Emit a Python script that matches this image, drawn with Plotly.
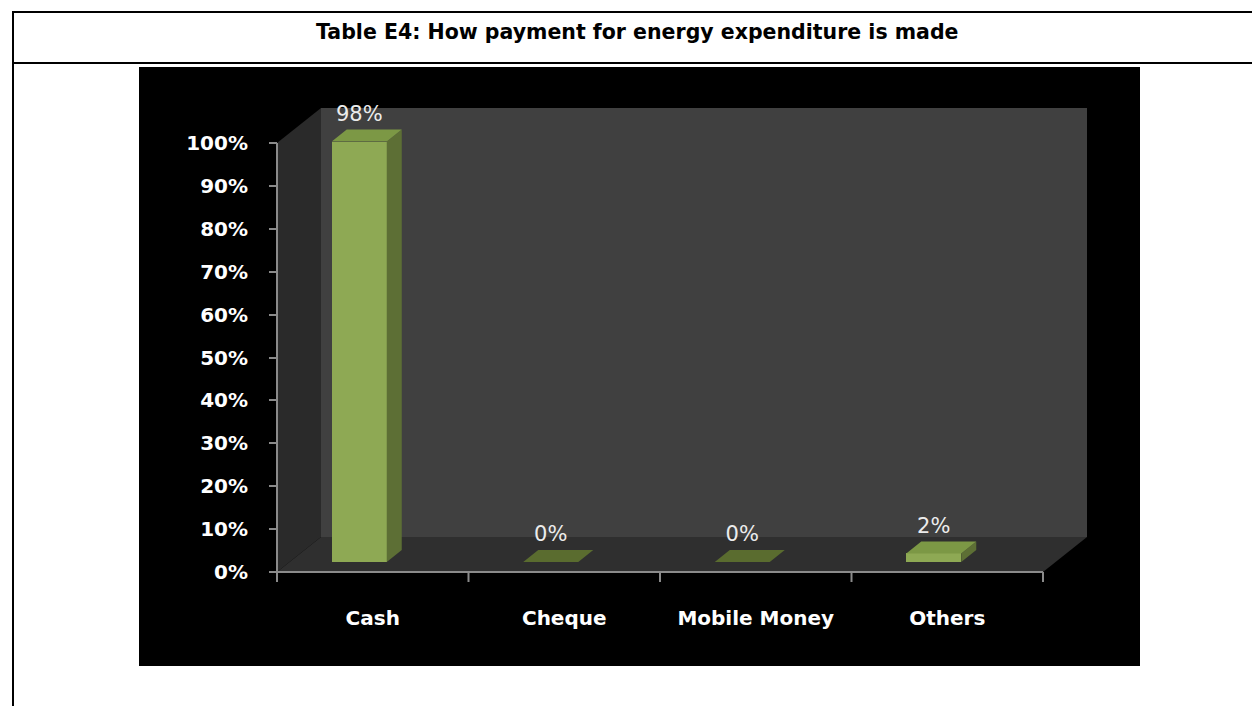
import plotly.graph_objects as go

# ---- data -------------------------------------------------------------
categories = ["Cash", "Cheque", "Mobile Money", "Others"]
shares = [0.98, 0.0, 0.0, 0.02]
share_labels = ["98%", "0%", "0%", "2%"]
y_tick_values = [0.0, 0.1, 0.2, 0.3, 0.4, 0.5, 0.6, 0.7, 0.8, 0.9, 1.0]
y_tick_labels = ["0%", "10%", "20%", "30%", "40%", "50%", "60%", "70%", "80%", "90%", "100%"]
title_text = "Table E4: How payment for energy expenditure is made"

# ---- page / frame geometry (pixels) -----------------------------------
W, H = 1252, 706
AX_X0 = 277          # y-axis position (category -0.5)
AX_Y0 = 572          # x-axis position (value 0)
PX_PER_CAT = 191.5   # pixels per category
PX_PER_UNIT = 429.0  # pixels per 100 %
PLOT_L, PLOT_R, PLOT_T, PLOT_B = 262, 1100, 96, 588

x_range = [-0.5 - (AX_X0 - PLOT_L) / PX_PER_CAT, -0.5 + (PLOT_R - AX_X0) / PX_PER_CAT]
y_range = [-(PLOT_B - AX_Y0) / PX_PER_UNIT, (AX_Y0 - PLOT_T) / PX_PER_UNIT]

# depth of the 3-D box and of each bar (axis units)
DEPTH_X = 44 / PX_PER_CAT
DEPTH_Y = 35 / PX_PER_UNIT
BAR_W = 55 / PX_PER_CAT
BAR_SHIFT = -13.5 / PX_PER_CAT
BAR_BASE = 10 / PX_PER_UNIT
TOP_DX = 15 / PX_PER_CAT
TOP_DY = 12 / PX_PER_UNIT
LABEL_GAP = 14 / PX_PER_UNIT

FRONT = "#8ea954"
SIDE = "#5d6f35"
TOP = "#7c9845"
TOP_FLAT = "#5a6c2f"
AXIS_GREY = "#8a8a8a"

fig = go.Figure()

# front faces of the bars
fig.add_trace(go.Bar(
    x=[i + BAR_SHIFT for i in range(len(categories))],
    y=shares,
    base=BAR_BASE,
    width=BAR_W,
    marker=dict(color=FRONT, line=dict(width=0)),
    hoverinfo="skip",
    showlegend=False,
))

# top and side faces of each bar
for i, v in enumerate(shares):
    xl = i + BAR_SHIFT - BAR_W / 2
    xr = i + BAR_SHIFT + BAR_W / 2
    yt = BAR_BASE + v
    if v > 0:
        fig.add_trace(go.Scatter(
            x=[xr, xr, xr + TOP_DX, xr + TOP_DX, xr],
            y=[BAR_BASE, yt, yt + TOP_DY, BAR_BASE + TOP_DY, BAR_BASE],
            fill="toself", fillcolor=SIDE, mode="lines", line=dict(width=0),
            hoverinfo="skip", showlegend=False,
        ))
    fig.add_trace(go.Scatter(
        x=[xl, xl + TOP_DX, xr + TOP_DX, xr, xl],
        y=[yt, yt + TOP_DY, yt + TOP_DY, yt, yt],
        fill="toself", fillcolor=TOP if v > 0 else TOP_FLAT, mode="lines",
        line=dict(width=0), hoverinfo="skip", showlegend=False,
    ))

# value labels
fig.add_trace(go.Scatter(
    x=[i + BAR_SHIFT for i in range(len(categories))],
    y=[BAR_BASE + v + TOP_DY + LABEL_GAP for v in shares],
    mode="text",
    text=share_labels,
    textposition="middle center",
    textfont=dict(family="DejaVu Sans", size=21, color="#ececec"),
    hoverinfo="skip",
    showlegend=False,
))

x_lo, x_hi = -0.5, len(categories) - 0.5

shapes = [
    # black chart canvas
    dict(type="rect", xref="paper", yref="paper", x0=139 / W, x1=1140 / W,
         y0=1 - 666 / H, y1=1 - 67 / H, fillcolor="#000000", line=dict(width=0), layer="below"),
    # table rules
    dict(type="line", xref="paper", yref="paper", x0=12 / W, x1=1.0, y0=1 - 12 / H, y1=1 - 12 / H,
         line=dict(color="#000000", width=2)),
    dict(type="line", xref="paper", yref="paper", x0=12 / W, x1=1.0, y0=1 - 63 / H, y1=1 - 63 / H,
         line=dict(color="#000000", width=2)),
    dict(type="line", xref="paper", yref="paper", x0=13 / W, x1=13 / W, y0=0, y1=1 - 11 / H,
         line=dict(color="#000000", width=2)),
    # back wall
    dict(type="rect", xref="x", yref="y", x0=x_lo + DEPTH_X, x1=x_hi + DEPTH_X,
         y0=DEPTH_Y, y1=1 + DEPTH_Y, fillcolor="#404040", line=dict(width=0), layer="below"),
    # side wall
    dict(type="path", xref="x", yref="y",
         path=f"M {x_lo},0 L {x_lo},1 L {x_lo + DEPTH_X},{1 + DEPTH_Y} L {x_lo + DEPTH_X},{DEPTH_Y} Z",
         fillcolor="#2a2a2a", line=dict(width=0), layer="below"),
    # floor
    dict(type="path", xref="x", yref="y",
         path=f"M {x_lo},0 L {x_lo + DEPTH_X},{DEPTH_Y} L {x_hi + DEPTH_X},{DEPTH_Y} L {x_hi},0 Z",
         fillcolor="#2f2f2f", line=dict(width=0), layer="below"),
    # axis lines
    dict(type="line", xref="x", yref="y", x0=x_lo, x1=x_lo, y0=0, y1=1,
         line=dict(color=AXIS_GREY, width=2)),
    dict(type="line", xref="x", yref="y", x0=x_lo, x1=x_hi, y0=0, y1=0,
         line=dict(color=AXIS_GREY, width=2)),
]
# category boundary ticks
for b in range(len(categories) + 1):
    xb = x_lo + b
    shapes.append(dict(type="line", xref="x", yref="y", x0=xb, x1=xb, y0=0, y1=-10 / PX_PER_UNIT,
                       line=dict(color=AXIS_GREY, width=2)))

fig.update_layout(
    width=W, height=H, autosize=False,
    margin=dict(l=0, r=0, t=0, b=0),
    paper_bgcolor="#ffffff",
    plot_bgcolor="rgba(0,0,0,0)",
    bargap=0,
    shapes=shapes,
    annotations=[dict(
        text="<b>" + title_text + "</b>", xref="paper", yref="paper",
        x=637 / W, y=1 - 32 / H, xanchor="center", yanchor="middle", showarrow=False,
        font=dict(family="DejaVu Sans", size=20.5, color="#000000"),
    )],
    xaxis=dict(
        domain=[PLOT_L / W, PLOT_R / W], range=x_range,
        anchor="free", position=1 - AX_Y0 / H,
        tickmode="array", tickvals=list(range(len(categories))), ticktext=categories,
        ticks="", showline=False, showgrid=False, zeroline=False,
        tickfont=dict(family="DejaVu Sans", size=20, color="#ffffff", weight="bold"),
        ticklabelstandoff=32,
    ),
    yaxis=dict(
        domain=[1 - PLOT_B / H, 1 - PLOT_T / H], range=y_range,
        anchor="free", position=AX_X0 / W,
        tickmode="array", tickvals=y_tick_values, ticktext=y_tick_labels,
        ticks="outside", ticklen=8, tickwidth=2, tickcolor=AXIS_GREY,
        showline=False, showgrid=False, zeroline=False,
        tickfont=dict(family="DejaVu Sans", size=20, color="#ffffff", weight="bold"),
        ticklabelstandoff=17,
    ),
)

fig.write_html("out.html")
